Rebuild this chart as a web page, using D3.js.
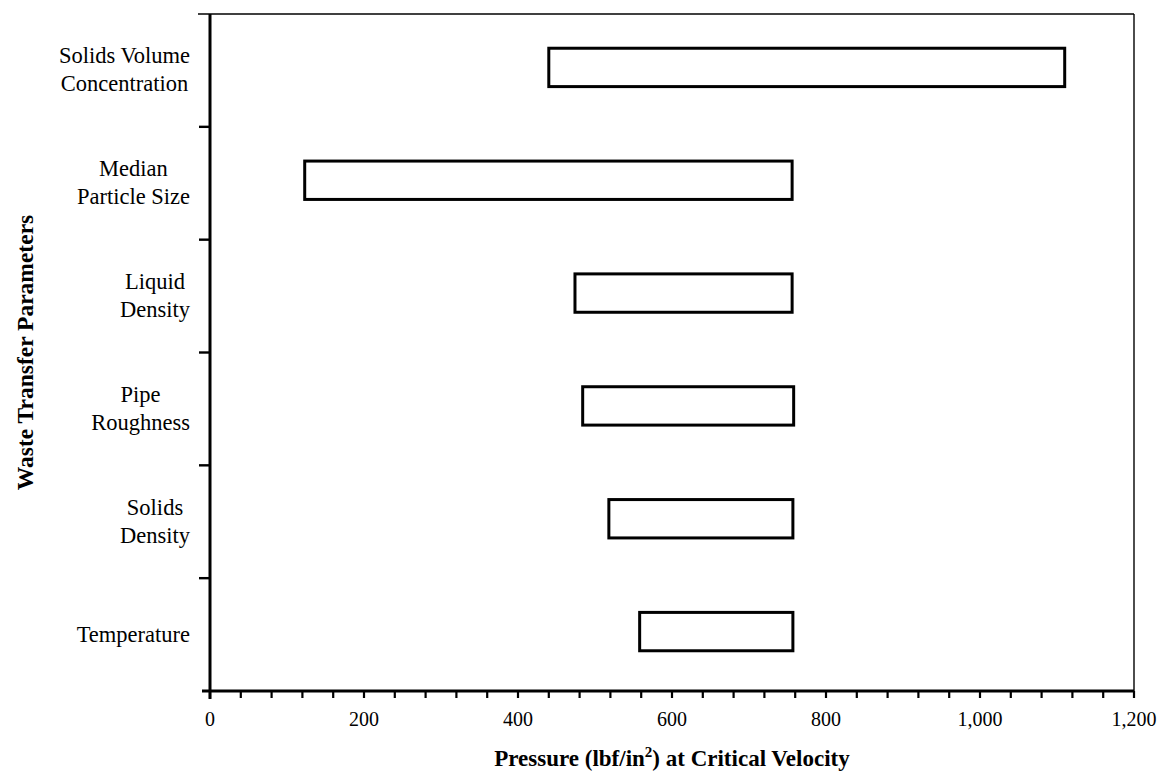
<!DOCTYPE html>
<html>
<head>
<meta charset="utf-8">
<script src="https://cdn.jsdelivr.net/npm/d3@7"></script>
<style>
  html, body { margin: 0; padding: 0; background: #fff; }
  svg { display: block; font-family: "Liberation Serif", "Times New Roman", serif; }
</style>
</head>
<body>
<svg id="chart" width="1170" height="775"></svg>
<script>
// ---- data ----
const categories = ["Solids Volume Concentration", "Median Particle Size", "Liquid Density",
                    "Pipe Roughness", "Solids Density", "Temperature"];
const categoryLines = [["Solids Volume", "Concentration"], ["Median", "Particle Size"],
                       ["Liquid", "Density"], ["Pipe", "Roughness"], ["Solids", "Density"], ["Temperature"]];
const lowValues  = [440, 123, 474, 484, 518, 558];
const highValues = [1110, 756, 756, 758, 757, 757];
const xTickLabels = [0, 200, 400, 600, 800, 1000, 1200];
const xMinorTicks = d3.range(0, 1201, 40);
const xTitle = "Pressure (lbf/in";
const xTitleSup = "2";
const xTitleEnd = ") at Critical Velocity";
const yTitle = "Waste Transfer Parameters";

// ---- layout ----
const svg = d3.select("#chart");
const mLeft = 210, mRight = 1134, mTop = 14, mBottom = 691;

const x = d3.scaleLinear().domain([0, 1200]).range([mLeft, mRight]);
const y = d3.scaleBand().domain(categories).range([mTop, mBottom])
  .paddingInner(0.66).paddingOuter(0.33);

// frame top & right (thin)
svg.append("line").attr("x1", mLeft - 12).attr("x2", mRight).attr("y1", mTop).attr("y2", mTop)
  .attr("stroke", "#000").attr("stroke-width", 1.6);
svg.append("line").attr("x1", mRight).attr("x2", mRight).attr("y1", mTop).attr("y2", mBottom)
  .attr("stroke", "#000").attr("stroke-width", 1.4);

// bottom axis
const gx = svg.append("g").attr("transform", `translate(0,${mBottom})`);
gx.append("line").attr("x1", mLeft - 8).attr("x2", mRight).attr("stroke", "#000").attr("stroke-width", 3);
gx.selectAll("line.tick").data(xMinorTicks).enter().append("line")
  .attr("class", "tick")
  .attr("x1", d => x(d)).attr("x2", d => x(d)).attr("y1", 0).attr("y2", 7)
  .attr("stroke", "#000").attr("stroke-width", 2.2);
gx.selectAll("text").data(xTickLabels).enter().append("text")
  .attr("x", d => x(d)).attr("y", 35)
  .attr("text-anchor", "middle").attr("font-size", 20)
  .text(d => d3.format(",")(d));

// left axis
svg.append("line").attr("x1", mLeft).attr("x2", mLeft).attr("y1", mTop).attr("y2", mBottom + 8)
  .attr("stroke", "#000").attr("stroke-width", 3);
const boundaries = d3.range(1, categories.length).map(i => y.range()[0] + i * y.step());
svg.selectAll("line.ytick").data(boundaries).enter().append("line")
  .attr("class", "ytick")
  .attr("x1", mLeft - 11).attr("x2", mLeft).attr("y1", d => d).attr("y2", d => d)
  .attr("stroke", "#000").attr("stroke-width", 2.4);

// bars
svg.selectAll("rect.bar").data(categories).enter().append("rect")
  .attr("class", "bar")
  .attr("x", (d, i) => x(lowValues[i]))
  .attr("width", (d, i) => x(highValues[i]) - x(lowValues[i]))
  .attr("y", d => y(d) - 3)
  .attr("height", y.bandwidth())
  .attr("fill", "none").attr("stroke", "#000").attr("stroke-width", 3);

// category labels
const labelRight = 190;
categories.forEach((c, i) => {
  const lines = categoryLines[i];
  const cy = y(c) + y.bandwidth() / 2;
  const g = svg.append("g");
  const texts = lines.map((ln, j) => g.append("text")
    .attr("font-size", 22.5)
    .attr("text-anchor", "middle")
    .attr("y", lines.length === 1 ? cy + 7 : cy - 7 + j * 28)
    .text(ln));
  const maxW = d3.max(texts, t => t.node().getComputedTextLength());
  texts.forEach(t => t.attr("x", labelRight - maxW / 2));
});

// x title
const xt = svg.append("text").attr("x", (mLeft + mRight) / 2).attr("y", 766)
  .attr("text-anchor", "middle").attr("font-size", 23).attr("font-weight", "bold");
xt.append("tspan").text(xTitle);
xt.append("tspan").attr("dy", -9).attr("font-size", 15).text(xTitleSup);
xt.append("tspan").attr("dy", 9).text(xTitleEnd);

// y title
svg.append("text")
  .attr("transform", `translate(33,${(mTop + mBottom) / 2}) rotate(-90)`)
  .attr("text-anchor", "middle").attr("font-size", 23.5).attr("font-weight", "bold")
  .text(yTitle);
</script>
</body>
</html>
